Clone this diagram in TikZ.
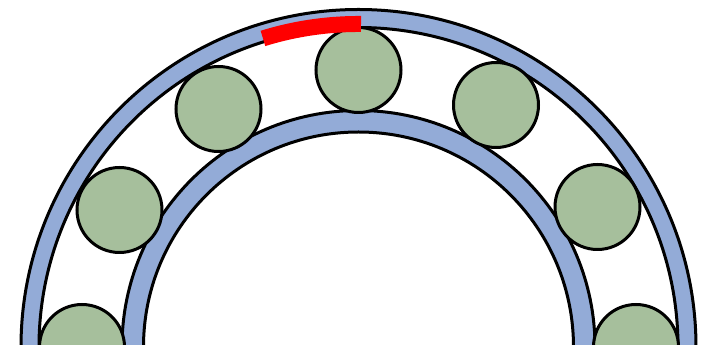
\documentclass[tikz,border=0pt]{standalone}
\definecolor{ringblue}{HTML}{93ABD7}
\definecolor{ballgreen}{HTML}{A6BF9C}
\begin{document}
\begin{tikzpicture}[
    x=0.75pt, y=0.75pt,
    ring/.style={draw=black, fill=ringblue, line width=2.25pt, even odd rule},
    ball/.style={circle, draw=black, fill=ballgreen, line width=2.25pt, minimum size=63.75pt, inner sep=0pt},
    patch/.style={draw=red, line width=12pt}
  ]
    \clip (-358.5,2) rectangle (343.5,347);
    \useasboundingbox (-358.5,2) rectangle (343.5,347);
    \coordinate (hub) at (0,0);
    % rings
    \path[ring] (hub) circle[radius=337.5] circle[radius=319.5];
    \path[ring] (hub) circle[radius=236.5] circle[radius=215];
    % rollers
    \node[ball] (top) at (0,277) {};
    \node[ball] (upleft) at (-140,238) {};
    \node[ball] (midleft) at (-239,137) {};
    \node[ball] (lowleft) at (-276.5,0) {};
    \node[ball] (upright) at (137.5,242) {};
    \node[ball] (midright) at (239,140) {};
    \node[ball] (lowright) at (277.5,0) {};
    % worn patch
    \draw[patch] (2.5,323) arc[start angle=89.55, end angle=107.2, radius=323];
\end{tikzpicture}
\end{document}
